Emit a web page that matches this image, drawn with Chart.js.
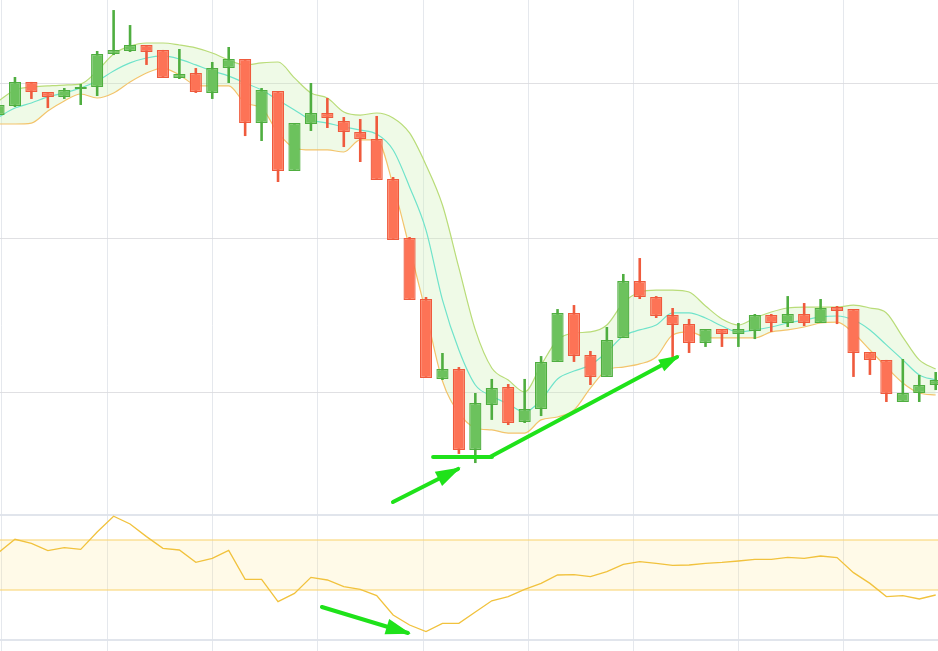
<!DOCTYPE html>
<html>
<head>
<meta charset="utf-8">
<script src="https://cdn.jsdelivr.net/npm/chart.js@4.4.1/dist/chart.umd.min.js"></script>
<style>
  html, body { margin: 0; padding: 0; background: #fff; }
  canvas { display: block; }
</style>
</head>
<body>
<canvas id="chart" width="938" height="651"></canvas>
<script>
// OHLC per session (index = session number)
const opens  = [127.96,128.54,130.10,129.45,129.13,129.64,129.77,131.91,132.10,132.49,
                132.17,130.36,130.68,129.39,131.00,131.58,127.44,129.51,124.34,127.38,
                128.09,127.57,126.86,126.41,123.82,120.01,116.06,110.89,111.53,106.29,
                109.20,110.37,108.11,108.95,111.99,115.16,112.44,111.02,113.54,117.22,
                116.19,115.03,114.44,113.21,114.12,113.80,113.99,115.03,114.51,115.09,
                114.51,115.54,115.41,112.63,112.12,109.40,109.98,110.50];
const highs  = [128.74,130.42,130.10,129.45,129.71,129.97,132.10,134.75,133.78,132.49,
                132.17,132.23,131.00,131.39,132.36,131.58,129.71,129.51,127.44,130.03,
                129.06,127.83,127.70,127.90,123.95,120.07,116.19,112.57,111.66,109.98,
                110.89,110.56,110.89,112.37,115.41,115.67,112.70,114.25,117.68,118.71,
                116.25,115.48,114.77,114.12,114.12,114.51,115.09,115.09,116.25,115.80,
                116.06,115.61,115.41,112.63,112.12,112.18,111.15,111.34];
const lows   = [127.83,128.48,129.00,128.41,129.00,128.61,129.19,131.84,132.04,131.20,
                130.36,130.29,129.39,129.00,130.03,126.60,126.28,123.63,124.34,126.93,
                127.12,125.89,124.92,123.76,119.88,116.00,110.95,110.82,106.04,105.45,
                108.24,107.91,108.04,108.49,111.99,111.99,110.50,111.02,113.54,116.06,
                114.83,112.24,112.57,112.96,112.96,112.96,113.47,113.93,114.25,114.31,
                114.51,114.44,111.02,111.15,109.40,109.40,109.40,110.17];
const closes = [128.61,130.10,129.45,129.13,129.58,129.77,131.91,132.17,132.49,132.04,
                130.36,130.61,129.45,131.00,131.58,127.44,129.58,124.34,127.44,128.09,
                127.77,126.86,126.41,123.76,119.88,116.00,110.95,111.53,106.29,109.33,
                110.30,108.04,108.95,111.99,115.16,112.37,111.02,113.41,117.22,116.19,
                114.96,114.38,113.21,114.12,113.80,114.12,115.03,114.51,115.09,114.51,
                115.48,115.29,112.57,112.12,109.92,109.98,110.50,110.82];

// Bollinger bands
const bbUpper  = [128.87,129.58,129.77,129.84,129.90,129.97,130.81,131.91,132.42,132.62,
                  132.62,132.49,132.30,131.97,131.52,131.20,131.33,131.39,130.36,129.39,
                  129.06,128.16,127.96,128.09,127.77,126.80,124.73,122.14,118.07,114.06,
                  111.60,110.82,110.05,111.79,113.41,113.86,113.93,114.38,115.80,116.51,
                  116.64,116.64,116.51,115.61,114.77,114.38,114.83,115.22,115.48,115.54,
                  115.54,115.54,115.67,115.48,115.16,113.60,112.12,111.53];
const bbMiddle = [127.83,128.41,128.74,129.13,129.39,129.71,130.16,130.81,131.33,131.65,
                  131.78,131.58,131.20,130.81,130.48,130.03,129.58,128.93,128.29,127.64,
                  127.44,127.19,126.99,126.73,125.70,123.31,120.52,116.00,112.76,110.50,
                  109.79,109.27,108.75,109.53,110.89,111.40,111.79,112.63,113.67,114.06,
                  114.38,115.16,115.16,114.83,114.31,113.93,114.06,114.25,114.51,114.70,
                  114.90,114.96,114.70,114.06,113.09,112.12,111.15,110.82];
const bbLower  = [127.38,127.38,127.44,128.22,128.87,129.32,129.06,129.39,130.10,130.68,
                  131.00,130.55,129.90,129.84,129.84,128.74,128.41,126.80,125.83,125.70,
                  125.70,125.57,126.35,126.35,123.43,119.36,115.16,110.76,108.69,107.72,
                  107.59,107.39,107.39,108.24,108.43,108.88,110.30,111.47,111.66,111.86,
                  112.31,113.73,113.93,113.60,113.54,113.54,113.54,113.93,114.06,114.25,
                  114.51,114.57,113.86,112.76,111.66,110.63,109.98,109.85];

// oscillator (lower panel)
const rsi = [70,80.6,77.3,71.5,73.9,72.5,86.4,99,92.8,82.7,
             73.3,72,62.1,65.3,71.7,48.5,48.5,30.7,37.3,50.1,
             48,42.7,40.5,35.5,20,12,6.7,13.3,13.3,22.4,
             31.4,34.7,40.5,45.3,52,52.3,50.7,54.7,60.5,62.7,
             61.3,59.7,60,61.3,62.1,63.2,64.5,64.5,66.1,65.3,
             67.2,65.9,53.9,45.3,34.7,35.5,32.8,36];
const rsiBand = [40, 80];

// hand drawn annotations, in data coordinates
const supportLine = [{x: 26.43, y: 105.84}, {x: 30.01, y: 105.84}];
const trendArrow  = [{x: 29.89, y: 105.84}, {x: 41.27, y: 112.31}];
const lowArrow    = [{x: 23.99, y: 102.93}, {x: 27.95, y: 105.07}];
const rsiArrow    = [{x: 19.67, y: 26.4},  {x: 24.90, y: 5.6}];

// grid positions
const xGridTicks = [0.21, 6.61, 13.01, 19.42, 25.82, 32.22, 38.62, 45.02, 51.41];
const priceGridTicks = [110, 120, 130];
const rsiGridTicks = [0, 100];

const GREEN = '#6cc25d', GREEN_EDGE = '#4fae40';
const RED = '#fd7356', RED_EDGE = '#ef5a3d';
const ARROW = '#1fe21a';

const pts = arr => arr.map((v, i) => ({x: i, y: v}));
const isUp = i => closes[i] >= opens[i];

const arrowHeads = {
  id: 'arrowHeads',
  afterDatasetsDraw(chart) {
    const ctx = chart.ctx;
    chart.data.datasets.forEach((ds, i) => {
      if (!ds.arrowHead) return;
      const els = chart.getDatasetMeta(i).data;
      const tip = els[els.length - 1], prev = els[els.length - 2];
      const ang = Math.atan2(tip.y - prev.y, tip.x - prev.x);
      ctx.save();
      ctx.translate(tip.x, tip.y);
      ctx.rotate(ang);
      ctx.beginPath();
      ctx.moveTo(3, 0);
      ctx.lineTo(-ds.arrowHead[0], -ds.arrowHead[1] / 2);
      ctx.lineTo(-ds.arrowHead[0], ds.arrowHead[1] / 2);
      ctx.closePath();
      ctx.fillStyle = ds.borderColor;
      ctx.fill();
      ctx.restore();
    });
  }
};

const arrowSet = (data, axis, head) => ({
  type: 'line', data: data, yAxisID: axis,
  borderColor: ARROW, borderWidth: 4, pointRadius: 0, tension: 0,
  borderCapStyle: 'round', order: 0, arrowHead: head
});

new Chart(document.getElementById('chart'), {
  data: {
    datasets: [
      // rsi band
      { type: 'line', yAxisID: 'rsi', data: [{x: -1, y: rsiBand[1]}, {x: 60, y: rsiBand[1]}],
        borderColor: 'rgba(250,214,120,0.75)', borderWidth: 1.5, pointRadius: 0,
        fill: '+1', backgroundColor: 'rgba(255,228,140,0.2)', order: 30 },
      { type: 'line', yAxisID: 'rsi', data: [{x: -1, y: rsiBand[0]}, {x: 60, y: rsiBand[0]}],
        borderColor: 'rgba(250,214,120,0.75)', borderWidth: 1.5, pointRadius: 0,
        fill: false, order: 29 },
      // bollinger
      { type: 'line', yAxisID: 'y', data: pts(bbUpper), borderColor: '#b9dc78', borderWidth: 1.2,
        pointRadius: 0, tension: 0.4, cubicInterpolationMode: 'monotone',
        fill: '+2', backgroundColor: 'rgba(205,240,180,0.32)', order: 20 },
      { type: 'line', yAxisID: 'y', data: pts(bbMiddle), borderColor: '#6fe3cb', borderWidth: 1.2,
        pointRadius: 0, tension: 0.4, cubicInterpolationMode: 'monotone', fill: false, order: 19 },
      { type: 'line', yAxisID: 'y', data: pts(bbLower), borderColor: '#f3c46c', borderWidth: 1.2,
        pointRadius: 0, tension: 0.4, cubicInterpolationMode: 'monotone', fill: false, order: 18 },
      // wicks
      { type: 'bar', yAxisID: 'y', grouped: false, maxBarThickness: 2.6, borderWidth: 0,
        data: highs.map((h, i) => ({x: i, y: [lows[i], h]})),
        backgroundColor: highs.map((h, i) => isUp(i) ? GREEN_EDGE : RED_EDGE), order: 6 },
      // bodies
      { type: 'bar', yAxisID: 'y', grouped: false, barPercentage: 0.74, categoryPercentage: 1,
        borderWidth: 1.3, borderSkipped: false,
        data: opens.map((o, i) => ({x: i, y: [o, closes[i]]})),
        backgroundColor: opens.map((o, i) => isUp(i) ? GREEN : RED),
        borderColor: opens.map((o, i) => isUp(i) ? GREEN_EDGE : RED_EDGE), order: 5 },
      // oscillator line
      { type: 'line', yAxisID: 'rsi', data: pts(rsi), borderColor: '#f1c23d', borderWidth: 1.3,
        pointRadius: 0, tension: 0, fill: false, order: 3 },
      arrowSet(supportLine, 'y', null),
      arrowSet(trendArrow, 'y', [18, 13]),
      arrowSet(lowArrow, 'y', [22, 16]),
      arrowSet(rsiArrow, 'rsi', [22, 16])
    ]
  },
  options: {
    responsive: false,
    animation: false,
    events: [],
    layout: { padding: 0 },
    plugins: { legend: { display: false }, tooltip: { enabled: false } },
    scales: {
      x: {
        type: 'linear', min: 0.09, max: 57.14, offset: false,
        afterBuildTicks: axis => { axis.ticks = xGridTicks.map(v => ({value: v})); },
        ticks: { display: false },
        grid: { color: 'rgba(222,226,232,0.8)', lineWidth: 1, drawTicks: false, offset: false },
        border: { display: false }
      },
      y: {
        type: 'linear', position: 'left', stack: 'panels', stackWeight: 515, weight: 2,
        min: 102.09, max: 135.40,
        afterBuildTicks: axis => { axis.ticks = priceGridTicks.map(v => ({value: v})); },
        ticks: { display: false },
        grid: { color: 'rgba(218,218,222,0.85)', lineWidth: 1, drawTicks: false },
        border: { display: false }
      },
      rsi: {
        type: 'linear', position: 'left', stack: 'panels', stackWeight: 136, weight: 1,
        min: -8.8, max: 100,
        afterBuildTicks: axis => { axis.ticks = rsiGridTicks.map(v => ({value: v})); },
        ticks: { display: false },
        grid: { color: 'rgba(222,226,234,0.9)', lineWidth: 2, drawTicks: false },
        border: { display: false }
      }
    }
  },
  plugins: [arrowHeads]
});
</script>
</body>
</html>
